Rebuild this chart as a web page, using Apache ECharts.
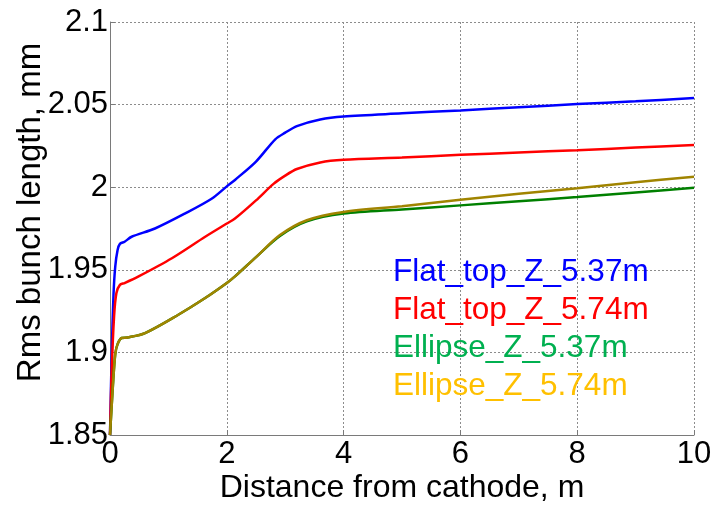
<!DOCTYPE html>
<html>
<head>
<meta charset="utf-8">
<script src="https://cdn.jsdelivr.net/npm/echarts@6/dist/echarts.min.js"></script>
<style>
html,body{margin:0;padding:0;background:#fff;}
#chart{width:712px;height:505px;}
</style>
</head>
<body>
<div id="chart"></div>
<script>
// Rms bunch length along the beamline, [distance (m), length (mm)]
const flatTop537 = [
  [0,1.85],[0.03,1.90],[0.06,1.935],[0.09,1.952],[0.13,1.962],[0.17,1.9657],
  [0.25,1.967],[0.37,1.970],[0.77,1.975],[1.28,1.984],[1.74,1.993],[2.0,2.0005],
  [2.14,2.0044],[2.5,2.0155],[2.83,2.029],[3.0,2.033],[3.2,2.037],[3.6,2.041],
  [4,2.0428],[5,2.0447],[6,2.0465],[7,2.0484],[8,2.0503],[9,2.052],[10,2.054]
];
const flatTop574 = [
  [0,1.85],[0.03,1.89],[0.07,1.922],[0.11,1.936],[0.17,1.9409],[0.25,1.942],
  [0.49,1.946],[1.06,1.957],[1.63,1.970],[2.0,1.978],[2.14,1.981],[2.5,1.992],
  [2.8,2.002],[3.0,2.007],[3.2,2.011],[3.6,2.015],[4,2.0166],[5,2.018],
  [6,2.0196],[7,2.021],[8,2.0224],[9,2.024],[10,2.0255]
];
const ellipse537 = [
  [0,1.85],[0.05,1.88],[0.09,1.899],[0.13,1.905],[0.2,1.9087],[0.3,1.909],
  [0.6,1.9117],[1.17,1.9228],[1.63,1.9329],[2.0,1.942],[2.14,1.946],[2.51,1.958],
  [2.91,1.9705],[3.37,1.9793],[4,1.984],[5,1.9865],[6,1.989],[7,1.9915],
  [8,1.994],[9,1.9968],[10,1.9996]
];
const ellipse574 = [
  [0,1.85],[0.05,1.88],[0.09,1.899],[0.13,1.905],[0.2,1.9087],[0.3,1.909],
  [0.6,1.9117],[1.17,1.9228],[1.63,1.9329],[2.0,1.942],[2.14,1.946],[2.51,1.958],
  [2.91,1.971],[3.37,1.980],[4,1.985],[5,1.9885],[6,1.9924],[7,1.996],
  [8,1.9994],[9,2.003],[10,2.0063]
];
const seriesNames = ['Flat_top_Z_5.37m','Flat_top_Z_5.74m','Ellipse_Z_5.37m','Ellipse_Z_5.74m'];
const lineColors = ['#0000ff','#ff0000','#008000','#a08400'];
const labelColors = ['#0000ff','#ff0000','#00b050','#ffc000'];
const seriesData = [flatTop537, flatTop574, ellipse537, ellipse574];

const FONT = '"Liberation Sans", Arial, sans-serif';
const chart = echarts.init(document.getElementById('chart'), null, {renderer:'canvas'});

const gridLine = {show:true, lineStyle:{color:'#8c8c8c', type:[2,2], width:1}};
const axisLine = {show:true, lineStyle:{color:'#7a7a7a', width:1}};

chart.setOption({
  backgroundColor:'#ffffff',
  animation:false,
  grid:{left:110, right:18, top:22, bottom:70, containLabel:false, outerBoundsMode:'none'},
  legend:{
    orient:'vertical', left:383, top:251, itemGap:5,
    icon:'none', itemWidth:0, itemHeight:0,
    selectedMode:false,
    data: seriesNames.map((n,i)=>({name:n, textStyle:{color:labelColors[i]}})),
    textStyle:{fontFamily:FONT, fontSize:31.5, lineHeight:33}
  },
  xAxis:{
    type:'value', min:0, max:10, interval:2,
    name:'Distance from cathode, m', nameLocation:'middle', nameGap:37, nameMoveOverlap:false,
    nameTextStyle:{fontFamily:FONT, fontSize:32, color:'#000'},
    axisLine:axisLine,
    axisTick:{show:true, inside:true, length:5, lineStyle:{color:'#7a7a7a'}},
    axisLabel:{fontFamily:FONT, fontSize:31, color:'#000', margin:4},
    splitLine:gridLine
  },
  yAxis:{
    type:'value', min:1.85, max:2.1, interval:0.05,
    name:'Rms bunch length, mm', nameLocation:'middle', nameGap:63, nameMoveOverlap:false,
    nameTextStyle:{fontFamily:FONT, fontSize:33, color:'#000', padding:[0,0,0,32]},
    axisLine:axisLine,
    axisTick:{show:true, inside:true, length:5, lineStyle:{color:'#7a7a7a'}},
    axisLabel:{fontFamily:FONT, fontSize:31, color:'#000', margin:2,
      formatter:v=>String(Math.round(v*100)/100)},
    splitLine:gridLine
  },
  series: seriesData.map((d,i)=>({
    name:seriesNames[i], type:'line', data:d, showSymbol:false, symbol:'none',
    smooth:0.3, lineStyle:{color:lineColors[i], width:2.5}, itemStyle:{color:lineColors[i]}
  }))
});
</script>
</body>
</html>
